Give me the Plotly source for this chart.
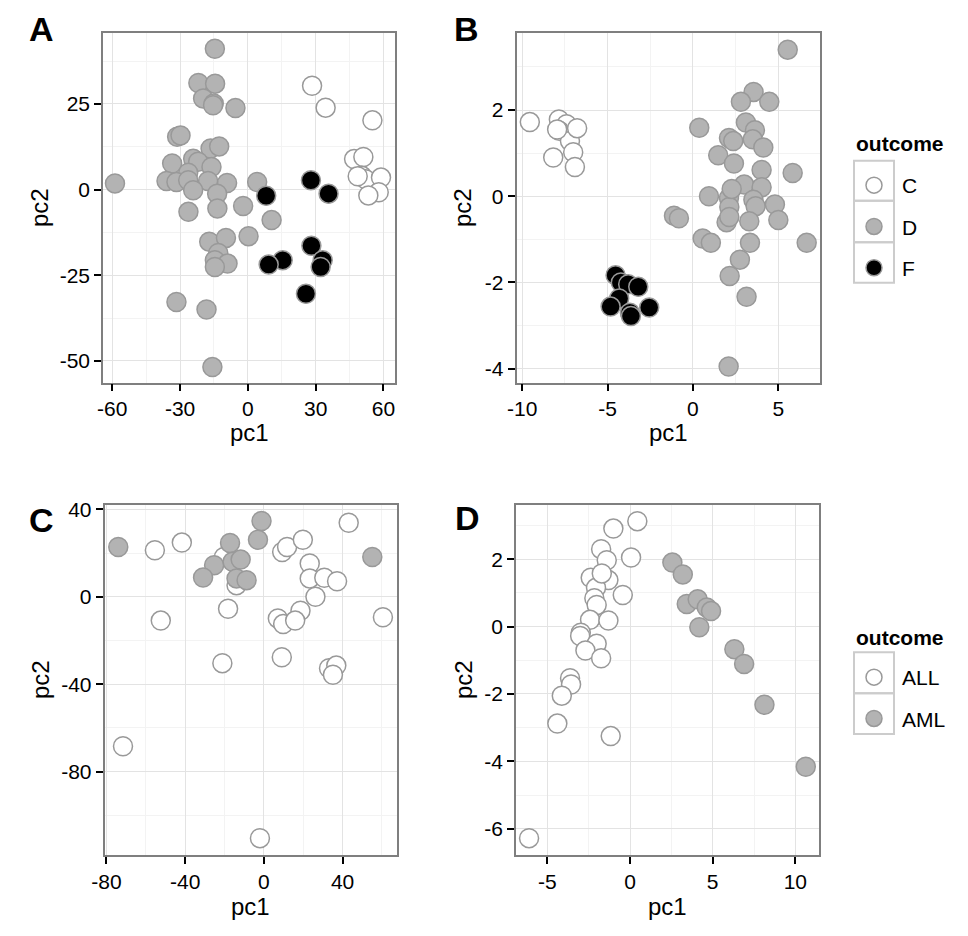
import plotly.graph_objects as go

FONT = "Liberation Sans, Arial, Helvetica, sans-serif"
# page body has an 8px margin; figure sized to fit the window inside it
W, H = 952, 920
OFF = 8

# ---------------- data ----------------
# Panel A (categories C, D, F)
a_C_pc1 = [28.4, 34.4, 55.1, 47.0, 51.1, 50.4, 52.1, 58.9, 57.9, 53.3, 48.6]
a_C_pc2 = [30.3, 23.9, 20.2, 8.9, 9.5, 4.0, 3.0, 3.5, -0.8, -1.7, 3.9]
a_D_pc1 = [-14.6, -21.9, -14.5, -19.8, -15.1, -15.4, -5.5, -31.3, -29.8, -16.5, -12.7, -33.5, -24.2,
           -22.0, -16.1, -26.4, -36.0, -31.6, -26.4, -17.6, -9.2, -24.2, -13.6, -58.8, 4.1, -26.3,
           -13.5, -2.1, 10.5, 0.3, -17.1, -9.7, -13.1, -14.6, -9.0, -14.6, -31.6, -18.3, -15.7]
a_D_pc2 = [41.1, 31.1, 30.9, 26.6, 25.1, 24.6, 23.8, 15.4, 15.8, 12.0, 12.6, 7.6, 9.0,
           8.1, 6.6, 4.9, 2.5, 2.2, 2.7, 2.5, 1.9, -0.2, -1.2, 1.8, 2.2, -6.5,
           -5.5, -4.8, -8.9, -13.6, -15.2, -14.1, -18.5, -20.6, -21.6, -22.6, -32.8, -35.0, -51.8]
a_F_pc1 = [27.9, 35.7, 8.1, 28.1, 33.1, 32.2, 15.4, 9.2, 25.7]
a_F_pc2 = [2.7, -1.2, -1.8, -16.4, -20.6, -22.6, -20.6, -21.9, -30.4]

# Panel B (categories C, D, F)
b_C_pc1 = [-9.55, -7.85, -7.4, -7.83, -7.2, -6.78, -7.01, -8.18, -6.91, -7.95]
b_C_pc2 = [1.72, 1.78, 1.67, 1.52, 1.28, 1.58, 1.02, 0.9, 0.68, 1.55]
b_D_pc1 = [5.55, 3.55, 2.81, 4.47, 0.37, 3.1, 3.63, 2.11, 2.36, 3.5, 4.12, 1.48, 2.4, 4.02,
           5.84, 3.0, 4.02, 0.94, 2.11, 3.54, 3.67, 4.8, 2.13, 1.97, 2.13, 3.3, 5.0, -1.11,
           -0.82, 0.57, 1.05, 3.34, 6.66, 2.75, 2.15, 3.14, 2.09, 2.27]
b_D_pc2 = [3.4, 2.42, 2.19, 2.19, 1.59, 1.71, 1.53, 1.35, 1.28, 1.32, 1.13, 0.95, 0.76, 0.61,
           0.54, 0.27, 0.21, 0.0, -0.04, -0.08, -0.23, -0.19, -0.25, -0.6, -0.48, -0.58, -0.55, -0.45,
           -0.51, -0.98, -1.08, -1.08, -1.08, -1.47, -1.85, -2.33, -3.95, 0.17]
b_F_pc1 = [-4.53, -4.22, -3.79, -3.2, -4.32, -4.82, -3.69, -3.63, -2.56]
b_F_pc2 = [-1.83, -2.0, -2.04, -2.1, -2.37, -2.56, -2.7, -2.78, -2.58]

# Panel C (categories ALL, AML)
c_ALL_pc1 = [-55.4, -41.7, -20.3, -13.9, -18.2, -52.4, -21.1, 9.3, 11.8, 19.8, 23.3, 23.3, 30.7, 37.2,
             26.2, 43.1, 60.5, 7.1, 18.6, 9.8, 15.9, 9.1, 33.1, 36.8, 35.1, -71.6, -2.0]
c_ALL_pc2 = [21.3, 24.8, 18.2, 5.3, -5.5, -10.9, -30.4, 20.5, 22.8, 26.1, 15.2, 8.4, 8.7, 7.1,
             0.0, 33.9, -9.4, -9.9, -6.4, -12.5, -10.9, -27.7, -32.7, -31.5, -35.7, -68.4, -110.5]
c_AML_pc1 = [-74.0, -1.2, -3.0, -17.2, -25.3, -15.9, -11.8, -30.9, -13.9, -8.8, 55.1]
c_AML_pc2 = [22.8, 34.7, 26.1, 24.6, 14.4, 16.0, 17.0, 8.8, 8.4, 7.6, 18.2]

# Panel D (categories ALL, AML)
d_ALL_pc1 = [0.44, -1.01, -1.75, -1.41, 0.06, -2.38, -1.31, -2.06, -2.16, -2.02, -0.44, -2.42, -1.31,
             -2.98, -3.02, -2.02, -2.7, -1.75, -3.63, -3.57, -4.13, -4.4, -1.17, -6.11, -1.71]
d_ALL_pc2 = [3.13, 2.91, 2.3, 1.97, 2.05, 1.45, 1.38, 1.15, 0.84, 0.64, 0.94, 0.2, 0.18,
             -0.18, -0.28, -0.51, -0.71, -0.94, -1.53, -1.72, -2.05, -2.88, -3.25, -6.28, 1.58]
d_AML_pc1 = [2.56, 3.19, 3.43, 4.09, 4.64, 4.9, 4.19, 6.31, 6.9, 8.13, 10.63]
d_AML_pc2 = [1.9, 1.55, 0.67, 0.81, 0.57, 0.46, -0.02, -0.67, -1.11, -2.32, -4.16]

# tick labels
a_xticks = [-60, -30, 0, 30, 60]
a_xtext = ["-60", "-30", "0", "30", "60"]
a_yticks = [-50, -25, 0, 25]
a_ytext = ["-50", "-25", "0", "25"]
b_xticks = [-10, -5, 0, 5]
b_xtext = ["-10", "-5", "0", "5"]
b_yticks = [-4, -2, 0, 2]
b_ytext = ["-4", "-2", "0", "2"]
c_xticks = [-80, -40, 0, 40]
c_xtext = ["-80", "-40", "0", "40"]
c_yticks = [-80, -40, 0, 40]
c_ytext = ["-80", "-40", "0", "40"]
d_xticks = [-5, 0, 5, 10]
d_xtext = ["-5", "0", "5", "10"]
d_yticks = [-6, -4, -2, 0, 2]
d_ytext = ["-6", "-4", "-2", "0", "2"]

FILL = {"C": "white", "D": "#b3b3b3", "F": "black", "ALL": "white", "AML": "#b3b3b3"}
EDGE = "#999999"

fig = go.Figure()


def add(xs, ys, cat, ax, show, legend):
    fig.add_trace(go.Scatter(
        x=xs, y=ys, mode="markers", name=cat, legendgroup=cat + legend,
        showlegend=show, legend=legend,
        xaxis="x" + ax, yaxis="y" + ax,
        marker=dict(size=19, color=FILL[cat], line=dict(color=EDGE, width=1.5)),
    ))


add(a_D_pc1, a_D_pc2, "D", "", False, "legend")
add(a_C_pc1, a_C_pc2, "C", "", False, "legend")
add(a_F_pc1, a_F_pc2, "F", "", False, "legend")
add(b_C_pc1, b_C_pc2, "C", "2", True, "legend")
add(b_D_pc1, b_D_pc2, "D", "2", True, "legend")
add(b_F_pc1, b_F_pc2, "F", "2", True, "legend")
add(c_ALL_pc1, c_ALL_pc2, "ALL", "3", False, "legend2")
add(c_AML_pc1, c_AML_pc2, "AML", "3", False, "legend2")
add(d_ALL_pc1, d_ALL_pc2, "ALL", "4", True, "legend2")
add(d_AML_pc1, d_AML_pc2, "AML", "4", True, "legend2")


def px_x(p):
    return (p - OFF) / W


def px_y(p):
    return 1 - (p - OFF) / H


def axis(domain, rng, tv, tt, mdt, mt0, anchor):
    return dict(
        domain=domain, range=rng, anchor=anchor, automargin=False,
        tickmode="array", tickvals=tv, ticktext=tt,
        ticks="outside", ticklen=7, tickwidth=2, tickcolor="black",
        tickfont=dict(size=21, color="black", family=FONT),
        showline=True, mirror=True, linecolor="#7f7f7f", linewidth=1.5,
        showgrid=True, gridcolor="#e3e3e3", gridwidth=1,
        minor=dict(dtick=mdt, tick0=mt0, showgrid=True, gridcolor="#f3f3f3", gridwidth=1, ticks=""),
        zeroline=False,
    )


xA = [px_x(103), px_x(395)]
xB = [px_x(516.5), px_x(820)]
xC = [px_x(104.5), px_x(396.5)]
xD = [px_x(516), px_x(818.5)]
yTop = [px_y(382.5), px_y(33.3)]
yBot = [px_y(855), px_y(505)]

legend_common = dict(
    xanchor="left", yanchor="top",
    font=dict(size=21, family=FONT, color="black"),
    traceorder="grouped", tracegroupgap=11, itemwidth=46,
    bgcolor="rgba(0,0,0,0)", borderwidth=0,
)

fig.update_layout(
    width=W, height=H, margin=dict(l=0, r=0, t=0, b=0, autoexpand=False),
    paper_bgcolor="white", plot_bgcolor="white",
    font=dict(family=FONT, color="black"),
    xaxis=axis(xA, [-64.1, 65.1], a_xticks, a_xtext, 15, -75, "y"),
    yaxis=axis(yTop, [-56.3, 45.6], a_yticks, a_ytext, 12.5, -62.5, "x"),
    xaxis2=axis(xB, [-10.33, 7.44], b_xticks, b_xtext, 2.5, -12.5, "y2"),
    yaxis2=axis(yTop, [-4.32, 3.78], b_yticks, b_ytext, 1, -5, "x2"),
    xaxis3=axis(xC, [-81.0, 67.4], c_xticks, c_xtext, 20, -100, "y3"),
    yaxis3=axis(yBot, [-118.2, 42.0], c_yticks, c_ytext, 20, -120, "x3"),
    xaxis4=axis(xD, [-6.9, 11.4], d_xticks, d_xtext, 2.5, -7.5, "y4"),
    yaxis4=axis(yBot, [-6.78, 3.61], d_yticks, d_ytext, 1, -7, "x4"),
    legend=dict(x=px_x(846), y=px_y(165), **legend_common),
    legend2=dict(x=px_x(846), y=px_y(657), **legend_common),
)

# legend titles
for py in [143, 637]:
    fig.add_annotation(x=px_x(854), y=px_y(py), xref="paper", yref="paper", text="<b>outcome</b>",
                       showarrow=False, font=dict(size=21, family=FONT, color="black"),
                       xanchor="left", yanchor="middle")

# panel letters (top row anchored at the top edge so the text box stays inside the page)
for letter, (px, py, anch) in zip(["A", "B", "C", "D"],
                                  [(41, 8.5, "top"), (466, 8.5, "top"), (41, 520, "middle"), (467, 518, "middle")]):
    fig.add_annotation(x=px_x(px), y=px_y(py), xref="paper", yref="paper", text="<b>%s</b>" % letter,
                       showarrow=False, font=dict(size=34, family=FONT, color="black"),
                       xanchor="center", yanchor=anch)

# axis titles
for (px, py) in [(249, 432), (668, 432), (250, 906), (667, 906)]:
    fig.add_annotation(x=px_x(px), y=px_y(py), xref="paper", yref="paper", text="pc1",
                       showarrow=False, font=dict(size=24, family=FONT, color="black"),
                       xanchor="center", yanchor="middle")
for (px, py) in [(40, 208), (463, 208), (40, 680), (463, 680)]:
    fig.add_annotation(x=px_x(px), y=px_y(py), xref="paper", yref="paper", text="pc2",
                       showarrow=False, font=dict(size=24, family=FONT, color="black"),
                       xanchor="center", yanchor="middle", textangle=-90)

# legend key boxes
for top, bottom in [(160.7, 200.7), (200.7, 242.3), (242.3, 282.7), (652.3, 693.3), (693.3, 734)]:
    fig.add_shape(type="rect", xref="paper", yref="paper", x0=px_x(854), x1=px_x(894),
                  y0=px_y(bottom), y1=px_y(top), line=dict(color="#cccccc", width=2), layer="below")

fig.write_html("out.html")
